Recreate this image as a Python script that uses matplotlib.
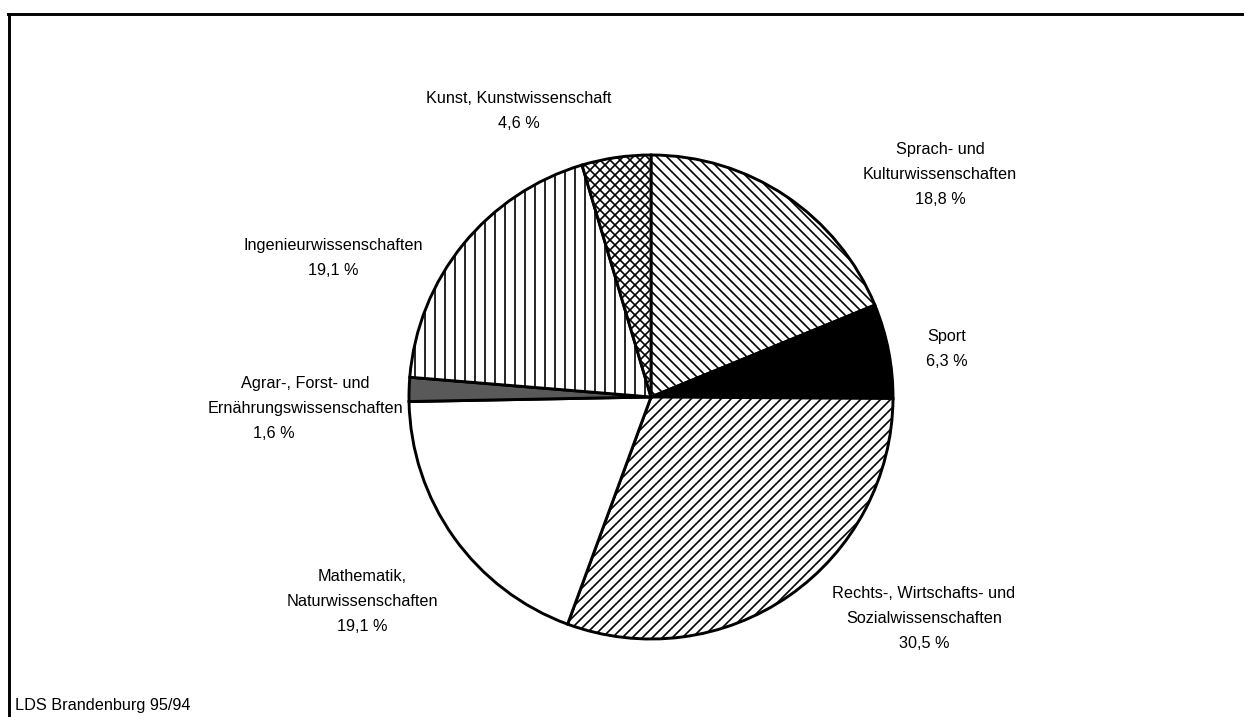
import matplotlib
matplotlib.use('Agg')
import matplotlib.pyplot as plt
from matplotlib.lines import Line2D

# Studierende nach Faechergruppen (Anteile in %)
categories = ['Sprach- und\nKulturwissenschaften', 'Sport',
              'Rechts-, Wirtschafts- und\nSozialwissenschaften',
              'Mathematik,\nNaturwissenschaften',
              'Agrar-, Forst- und\nErnährungswissenschaften',
              'Ingenieurwissenschaften', 'Kunst, Kunstwissenschaft']
shares = [18.8, 6.3, 30.5, 19.1, 1.6, 19.1, 4.6]
share_labels = ['18,8 %', '6,3 %', '30,5 %', '19,1 %', '1,6 %', '19,1 %', '4,6 %']

hatches = ['\\\\', None, '//', None, None, '|', 'xx']
faces = ['white', 'black', 'white', 'white', '0.35', 'white', 'white']

# Textpositionen in Pixel: Mitte x, Oberkante y; Versatz der Prozentzeile
label_pos = [(940, 142), (947, 329), (924, 586), (362, 569),
             (305, 376), (333, 238), (519, 91)]
pct_dx = [0, 0, 0, 0, -31, 0, 0]

W, H, DPI = 1244, 717, 60
plt.rcParams['font.family'] = ['Liberation Sans', 'DejaVu Sans']
plt.rcParams['hatch.linewidth'] = 2.0

fig = plt.figure(figsize=(W / DPI, H / DPI), dpi=DPI)
fig.patch.set_facecolor('white')

cx, cy, r = 651, 397, 242
lim = 1.2
ax = fig.add_axes([(cx - lim * r) / W, (H - cy - lim * r) / H,
                   2 * lim * r / W, 2 * lim * r / H])
wedges, _ = ax.pie(shares, startangle=90, counterclock=False, radius=1,
                   colors=faces,
                   wedgeprops=dict(edgecolor='black', linewidth=3.5))
for w, h in zip(wedges, hatches):
    if h:
        w.set_hatch(h)
ax.set_xlim(-lim, lim)
ax.set_ylim(-lim, lim)
ax.set_aspect('auto')
ax.axis('off')

fs = 19.5
pitch = 25  # Zeilenabstand in Pixel
for cat, lab, (px, py), dx in zip(categories, share_labels, label_pos, pct_dx):
    lines = cat.split('\n')
    for i, line in enumerate(lines):
        fig.text(px / W, 1 - (py + i * pitch) / H, line, ha='center',
                 va='top', fontsize=fs)
    fig.text((px + dx) / W, 1 - (py + len(lines) * pitch) / H, lab,
             ha='center', va='top', fontsize=fs)

fig.text(15 / W, 1 - 698 / H, 'LDS Brandenburg 95/94', ha='left', va='top',
         fontsize=19.5)

# Rahmen oben und links
fig.add_artist(Line2D([8 / W, 1], [1 - 14 / H, 1 - 14 / H], color='black',
                      linewidth=3.5, transform=fig.transFigure))
fig.add_artist(Line2D([9 / W, 9 / W], [1 - 14 / H, 0], color='black',
                      linewidth=3.5, transform=fig.transFigure))

fig.savefig('out.png', dpi=DPI)
